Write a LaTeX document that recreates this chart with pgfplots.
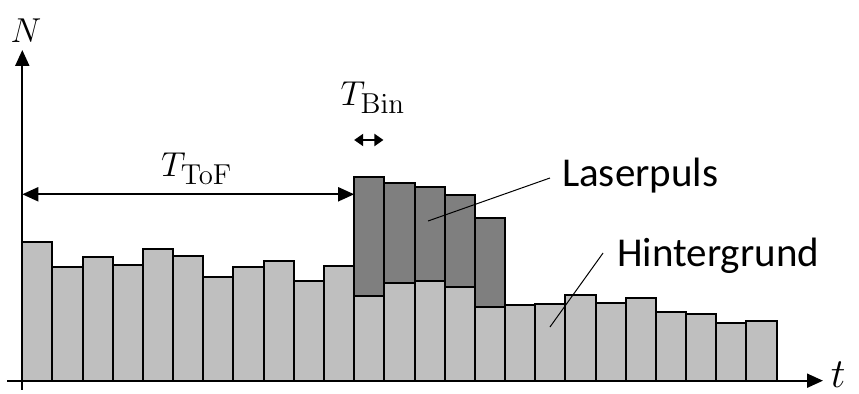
\documentclass[border=0pt]{standalone}
\usepackage[no-math]{fontspec}
\setmainfont{Carlito}
\usepackage{pgfplots}
\usepackage{pgfplotstable}
\pgfplotsset{compat=1.18}
\usetikzlibrary{arrows.meta}

\definecolor{lightbar}{RGB}{191,191,191}
\definecolor{darkbar}{RGB}{127,127,127}

% background counts per time bin
\pgfplotstableread{
x light
0.5 139
1.5 113.4
2.5 123.7
3.5 115.4
4.5 131.4
5.5 125
6.5 103.4
7.5 114
8.5 119.4
9.5 99.4
10.5 115
11.5 85
12.5 97.4
13.5 100
14.5 94
15.5 74
16.5 75.4
17.5 77
18.5 85.4
19.5 77.4
20.5 83
21.5 69
22.5 66.7
23.5 57.4
24.5 59.4
}\background

% total counts (background + laser pulse) in the signal bins
\pgfplotstableread{
x total
11.5 203.4
12.5 198
13.5 193.4
14.5 185.7
15.5 163
}\laser

\begin{document}
\begin{tikzpicture}
\useasboundingbox (-11.15pt,-6.65pt) rectangle (418.35pt,190.35pt);
\begin{axis}[
  at={(0,0)}, anchor=origin,
  x=15.085pt, y=0.5pt,
  xmin=-0.507, xmax=26.54, ymin=-9.3, ymax=330.7,
  axis lines=middle, axis on top,
  ticks=none,
  axis line style={line width=1pt},
  every inner x axis line/.append style={-{Triangle[length=8pt,width=7pt]}},
  every inner y axis line/.append style={-{Triangle[length=8pt,width=7pt]}},
  clip=false,
]
\addplot[ybar, bar width=1, bar shift=0pt, fill=darkbar, draw=black, line width=1pt]
  table[x=x, y=total] {\laser};
\addplot[ybar, bar width=1, bar shift=0pt, fill=lightbar, draw=black, line width=1pt]
  table[x=x, y=light] {\background};

% time of flight
\draw[line width=1pt, {Triangle[length=8pt,width=7pt]}-{Triangle[length=8pt,width=7pt]}]
  (axis cs:0,186.4) -- (axis cs:11,186.4);
\node[anchor=base, inner sep=0, font=\fontsize{19}{22}\selectfont]
  at (axis cs:5.78,203.7) {$T_{\mathrm{ToF}}$};

% bin width
\draw[line width=1pt, {Triangle[length=4.5pt,width=6pt]}-{Triangle[length=4.5pt,width=6pt]}]
  (axis cs:11,240.7) -- (axis cs:11.97,240.7);
\node[anchor=base, inner sep=0, font=\fontsize{19}{22}\selectfont]
  at (axis cs:11.62,274.7) {$T_{\mathrm{Bin}}$};

% axis names
\node[anchor=base, inner sep=0, font=\fontsize{19}{22}\selectfont]
  at (axis cs:0.12,337.7) {$N$};
\node[anchor=base, inner sep=0, font=\fontsize{20}{22}\selectfont]
  at (axis cs:27.04,-7.3) {$t$};

% callouts
\node[anchor=base west, inner sep=0, font=\fontsize{20.5}{24}\selectfont]
  at (axis cs:17.88,193.7) {Laserpuls};
\draw[line width=0.5pt] (axis cs:17.49,202.7) -- (axis cs:13.45,159.7);
\node[anchor=base west, inner sep=0, font=\fontsize{20.5}{24}\selectfont]
  at (axis cs:19.71,113.7) {Hintergrund};
\draw[line width=0.5pt] (axis cs:19.25,127.7) -- (axis cs:17.49,53.7);
\end{axis}
\end{tikzpicture}
\end{document}
